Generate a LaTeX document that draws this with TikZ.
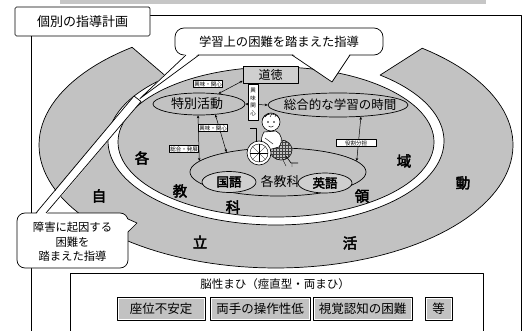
\documentclass[tikz,border=0pt]{standalone}
\usepackage{fontspec}
\setmainfont{Noto Sans CJK JP}
\newfontfamily\jpbold[FakeBold=3]{Noto Sans CJK JP}
\usetikzlibrary{shapes.geometric,arrows.meta,patterns}
\newcommand\jfs[1]{\fontsize{#1pt}{#1pt}\selectfont}
\definecolor{tone}{gray}{0.76}
\definecolor{tonelight}{gray}{0.81}

\begin{document}
\begin{tikzpicture}[x=1pt,y=-1pt,line join=round,
  outline/.style={draw=black,line width=0.7pt},
  area/.style={outline,fill=tone},
  bubble/.style={outline,fill=white},
  bigchar/.style={font=\jpbold\jfs{14.5},inner sep=0},
  oval/.style={ellipse,area,inner sep=0},
  tag/.style={draw=black,line width=0.4pt,fill=white,inner sep=0.8pt,font=\jfs{5.5}},
  tip/.tip={Stealth[length=3pt,width=2.6pt]},
  link/.style={line width=0.5pt,tip-tip},
  featbox/.style={outline,fill=tone,minimum height=23,inner sep=0,font=\jfs{12.5}},
]
\useasboundingbox (0,0) rectangle (527,331);

% strip along the upper edge
\fill[gray!45] (60,0) rectangle (486,4);

% outer frame
\draw[line width=0.8pt] (31,15) rectangle (521,345);

% outer band: 自立活動
\draw[area] plot[domain=232.6:-51.9,samples=120] ({276+237*cos(\x)},{145+123*sin(\x)})
  -- plot[domain=-51.7:229.5,samples=120] ({276+168*cos(\x)},{141+84*sin(\x)}) -- cycle;

% middle area: 各教科・領域
\draw[area] (276,142) ellipse[x radius=158pt,y radius=75pt];

% large characters
\node[bigchar] (cA) at (142,158) {各};
\node[bigchar] (cB) at (180,191) {教};
\node[bigchar] (cC) at (233,207) {科};
\node[bigchar] (cD) at (362,196) {領};
\node[bigchar] (cE) at (404,161) {域};
\node[bigchar] (cF) at (99,196) {自};
\node[bigchar] (cG) at (200,242) {立};
\node[bigchar] (cH) at (350,243) {活};
\node[bigchar] (cI) at (463,183) {動};

% subject ovals
\node[oval,minimum width=176,minimum height=48] (kakkyo) at (278,172) {};
\node[font=\jfs{13},inner sep=0] (kakkyotxt) at (280,182) {各教科};
\node[oval,fill=tonelight,minimum width=54,minimum height=21] (kokugo) at (229,182) {};
\node[font=\jpbold\jfs{12.5},inner sep=0] (kokugotxt) at (229,182) {国語};
\node[oval,fill=tonelight,minimum width=54,minimum height=20] (eigo) at (325,183) {};
\node[font=\jpbold\jfs{12.5},inner sep=0] (eigotxt) at (325,183) {英語};
\node[oval,minimum width=92,minimum height=22] (toku) at (199,104) {};
\node[font=\jfs{13},inner sep=0] (tokutxt) at (197,104) {特別活動};
\node[oval,minimum width=140,minimum height=24] (sogo) at (338,105) {};
\node[font=\jfs{12.5},inner sep=0] (sogotxt) at (340,104.5) {総合的な学習の時間};
\node[outline,fill=tonelight,minimum width=55,minimum height=17,inner sep=0,font=\jfs{12}] (dotoku) at (270.5,75) {道徳};

% links between the areas
\draw[link] (toku.28) -- ([yshift=3pt]dotoku.south west);
\node[tag] (tagA) at (208,84) {興味・関心};
\draw[link] (toku.east) -- (sogo.west);
\node[tag,align=center,minimum width=10,minimum height=36,font={\fontsize{5.5pt}{7.5pt}\selectfont}] (tagB) at (253,102) {興\\味\\関\\心};
\draw[link] (toku.265) -- (kakkyo.172);
\node[tag] (tagC) at (184,149) {総合・発展};
\draw[link] (toku.-33) -- (kakkyo.159);
\node[tag] (tagD) at (213,128) {興味・関心};
\draw[link] (sogo.-27) -- (kakkyo.8);
\node[tag,minimum width=40] (tagE) at (356,143) {役割分担};

% child in a wheelchair
\draw[outline,line width=0.6pt] (250,128) -- (256,128) -- (256,150);
\draw[outline,fill=tone,line width=0.6pt] (281,150) ellipse[x radius=11pt,y radius=10pt];
\fill[pattern=grid,pattern color=black!75] (281,150) ellipse[x radius=11pt,y radius=10pt];
\draw[outline,fill=white,line width=0.6pt] (264,132) .. controls (259,140) and (262,148) .. (268,150)
  -- (279,147) .. controls (283,141) and (282,134) .. (276,131) -- cycle;
\draw[line width=0.4pt] (265,138) -- (273,144);
\draw[outline,fill=white,line width=0.6pt] (259,153) circle[radius=12pt];
\draw[line width=0.4pt] (259,153) circle[radius=9pt];
\foreach \a in {0,45,...,315} \draw[line width=0.3pt] (259,153) -- ++(\a:9pt);
\draw[outline,line width=0.6pt] (286,156) -- (291,163) -- (298,163);
\draw[line width=0.4pt] (283,160) -- (286,166) (292,163) -- (292,167);
\draw[outline,fill=white,line width=0.6pt] (271,122) circle[radius=9pt];
\draw[line width=0.5pt] (262.5,119) .. controls (266,112) and (276,112) .. (279.5,119);
\draw[line width=0.4pt] (265,117) -- (268,114) (270,117) -- (272,113.5) (275,117) -- (276,114);
\fill (268,122) circle[radius=0.8pt] (274,122) circle[radius=0.8pt];
\draw[line width=0.4pt] (268.5,126) .. controls (270,127.5) and (272,127.5) .. (273.5,126);

% callout: 学習上の困難を踏まえた指導
\node[bubble,rounded corners=9,minimum width=208,minimum height=27,inner sep=0,font=\jfs{12.3}] (topbub) at (279,41.5) {学習上の困難を踏まえた指導};
\fill[white] (292,53.5) -- (332,82) -- (350,53.5) -- cycle;
\draw[outline] (292,55) -- (332,82) -- (350,55);
\fill[white] (186,53.5) -- (140,98.5) -- (199,53.5) -- cycle;
\draw[outline] (186,55) -- (140,98.5) -- (199,55);

% callout: 障害に起因する困難を踏まえた指導
\node[bubble,rounded corners=8,minimum width=111,minimum height=55,inner sep=0] (lowbub) at (72.5,240.5) {};
\node[align=center,inner sep=0,font={\fontsize{11.3pt}{14.5pt}\selectfont}] (lowtxt) at (72.5,242) {障害に起因する\\困難を\\踏まえた指導};
\fill[white] (36,214.5) -- (134,96) -- (141,101.5) -- (46,214.5) -- cycle;
\draw[outline] (36,213) -- (134,96) -- (141,101.5) -- (46,213);
\fill[white] (127,219) -- (137,223) -- (127,232) -- cycle;
\draw[outline] (128,219) -- (137,223) -- (128,232);

% title
\node[outline,fill=white,rounded corners=1.5,minimum width=135,minimum height=29,inner sep=0,font=\jfs{13}] (title) at (82.5,21.5) {個別の指導計画};

% condition box
\node[outline,fill=white,minimum width=413,minimum height=72,inner sep=0,anchor=north west] (cpbox) at (70,273) {};
\node[font=\jfs{11.5},inner sep=0] (cptitle) at (275,284) {脳性まひ（痙直型・両まひ）};
\node[featbox,minimum width=88] (f1) at (161,308.5) {座位不安定};
\node[featbox,minimum width=100] (f2) at (260,308.5) {両手の操作性低};
\node[featbox,minimum width=99] (f3) at (362.5,308.5) {視覚認知の困難};
\node[featbox,minimum width=27] (f4) at (438.5,308.5) {等};
\foreach \b in {f1,f2,f3,f4}
  \draw[white,line width=0.6pt] ([xshift=1.3pt,yshift=1.3pt]\b.south west) rectangle ([xshift=-1.3pt,yshift=-1.3pt]\b.north east);
\end{tikzpicture}
\end{document}
